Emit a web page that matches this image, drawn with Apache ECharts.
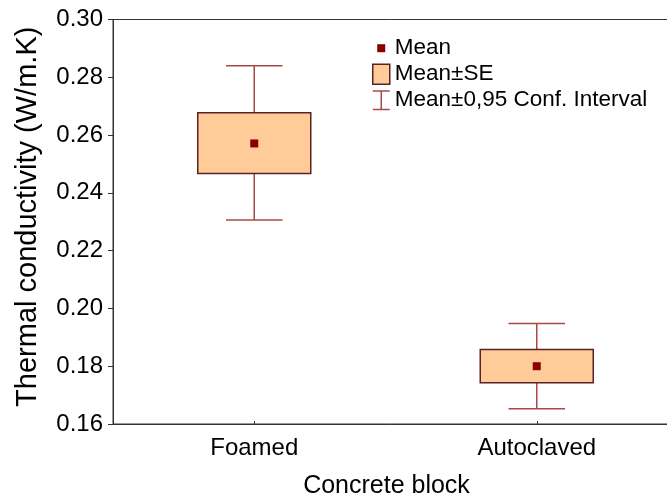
<!DOCTYPE html>
<html>
<head>
<meta charset="utf-8">
<script src="https://cdn.jsdelivr.net/npm/echarts@6/dist/echarts.min.js"></script>
<style>
html,body{margin:0;padding:0;background:#fff;}
#chart{width:667px;height:502px;}
</style>
</head>
<body>
<div id="chart"></div>
<script>
var categories = ['Foamed', 'Autoclaved'];
var means = [0.2571, 0.1800];
var seLow = [0.2467, 0.1743];
var seHigh = [0.2677, 0.1858];
var ciLow = [0.2306, 0.1653];
var ciHigh = [0.2840, 0.1948];
var yTicks = [0.16, 0.18, 0.20, 0.22, 0.24, 0.26, 0.28, 0.30];

var FONT = '"Liberation Sans", Arial, sans-serif';
var boxFill = '#FFCC99';
var boxBorder = '#5A2222';
var whiskerColor = '#A84848';
var meanColor = '#880000';

var chart = echarts.init(document.getElementById('chart'), null, {renderer: 'canvas'});

var boxData = categories.map(function (c, i) { return [i, seLow[i], seHigh[i]]; });
var ciData = categories.map(function (c, i) { return [i, ciLow[i], ciHigh[i]]; });
var meanData = categories.map(function (c, i) { return [i, means[i]]; });

var option = {
  backgroundColor: '#fff',
  animation: false,
  grid: {
    left: 113, top: 19.5, width: 565, height: 404.5,
    outerBoundsMode: 'none',
    containLabel: false,
    show: true, borderColor: '#333', borderWidth: 1, backgroundColor: 'transparent'
  },
  legend: {
    orient: 'vertical',
    left: 372, top: 36.7,
    padding: 0,
    itemWidth: 17, itemHeight: 20, itemGap: 3,
    textStyle: {fontFamily: FONT, fontSize: 22.5, color: '#000', lineHeight: 20},
    data: [
      {name: 'Mean', icon: 'path://M0 0M17 20M4.5 6h8v8h-8Z', itemStyle: {color: meanColor, borderWidth: 0, opacity: 1}},
      {name: 'Mean±SE', icon: 'rect', itemStyle: {color: boxFill, borderColor: boxBorder, borderWidth: 1.5}},
      {name: 'Mean±0,95 Conf. Interval', icon: 'path://M0 0h17v1.5h-7.75v17h7.75v1.5h-17v-1.5h7.75v-17h-7.75Z', itemStyle: {color: whiskerColor, borderWidth: 0}}
    ]
  },
  xAxis: {
    type: 'category',
    data: categories,
    name: 'Concrete block',
    nameLocation: 'middle',
    nameGap: 50,
    nameTextStyle: {fontFamily: FONT, fontSize: 25, color: '#000', padding: [0, 18, 0, 0]},
    axisLine: {show: true, lineStyle: {color: '#333', width: 1}},
    axisTick: {show: true, inside: true, length: 3, alignWithLabel: true, lineStyle: {color: '#333'}},
    axisLabel: {fontFamily: FONT, fontSize: 24, color: '#000', margin: 12},
    splitLine: {show: false}
  },
  yAxis: {
    type: 'value',
    min: 0.16, max: 0.30, interval: 0.02,
    name: 'Thermal conductivity (W/m.K)',
    nameLocation: 'middle',
    nameGap: 71,
    nameTextStyle: {fontFamily: FONT, fontSize: 29, color: '#000', padding: [0, 0, 0, 10]},
    axisLine: {show: true, lineStyle: {color: '#333', width: 1}},
    axisTick: {show: true, inside: false, length: 5, lineStyle: {color: '#333'}},
    axisLabel: {
      fontFamily: FONT, fontSize: 24, color: '#000', margin: 10,
      formatter: function (v) {
        var best = yTicks.reduce(function (a, b) { return Math.abs(b - v) < Math.abs(a - v) ? b : a; });
        return best.toFixed(2);
      }
    },
    splitLine: {show: false}
  },
  series: [
    {
      name: 'Mean±0,95 Conf. Interval',
      type: 'custom',
      z: 2,
      itemStyle: {color: whiskerColor},
      encode: {x: 0, y: [1, 2]},
      data: ciData,
      renderItem: function (params, api) {
        var x = api.value(0);
        var lo = api.coord([x, api.value(1)]);
        var hi = api.coord([x, api.value(2)]);
        var band = api.size([1, 0])[0];
        var cw = band * 0.2;
        var st = {stroke: whiskerColor, lineWidth: 1.5, fill: null};
        return {
          type: 'group',
          children: [
            {type: 'line', shape: {x1: lo[0], y1: lo[1], x2: hi[0], y2: hi[1]}, style: st},
            {type: 'line', shape: {x1: lo[0] - cw / 2, y1: lo[1], x2: lo[0] + cw / 2, y2: lo[1]}, style: st},
            {type: 'line', shape: {x1: hi[0] - cw / 2, y1: hi[1], x2: hi[0] + cw / 2, y2: hi[1]}, style: st}
          ]
        };
      }
    },
    {
      name: 'Mean±SE',
      type: 'custom',
      z: 3,
      itemStyle: {color: boxFill, borderColor: boxBorder},
      encode: {x: 0, y: [1, 2]},
      data: boxData,
      renderItem: function (params, api) {
        var x = api.value(0);
        var lo = api.coord([x, api.value(1)]);
        var hi = api.coord([x, api.value(2)]);
        var band = api.size([1, 0])[0];
        var bw = band * 0.4;
        return {
          type: 'rect',
          shape: {x: lo[0] - bw / 2, y: hi[1], width: bw, height: lo[1] - hi[1]},
          style: {fill: boxFill, stroke: boxBorder, lineWidth: 1.5}
        };
      }
    },
    {
      name: 'Mean',
      type: 'scatter',
      z: 4,
      symbol: 'rect',
      symbolSize: 8,
      itemStyle: {color: meanColor, opacity: 1},
      data: meanData
    }
  ]
};
chart.setOption(option);
</script>
</body>
</html>
